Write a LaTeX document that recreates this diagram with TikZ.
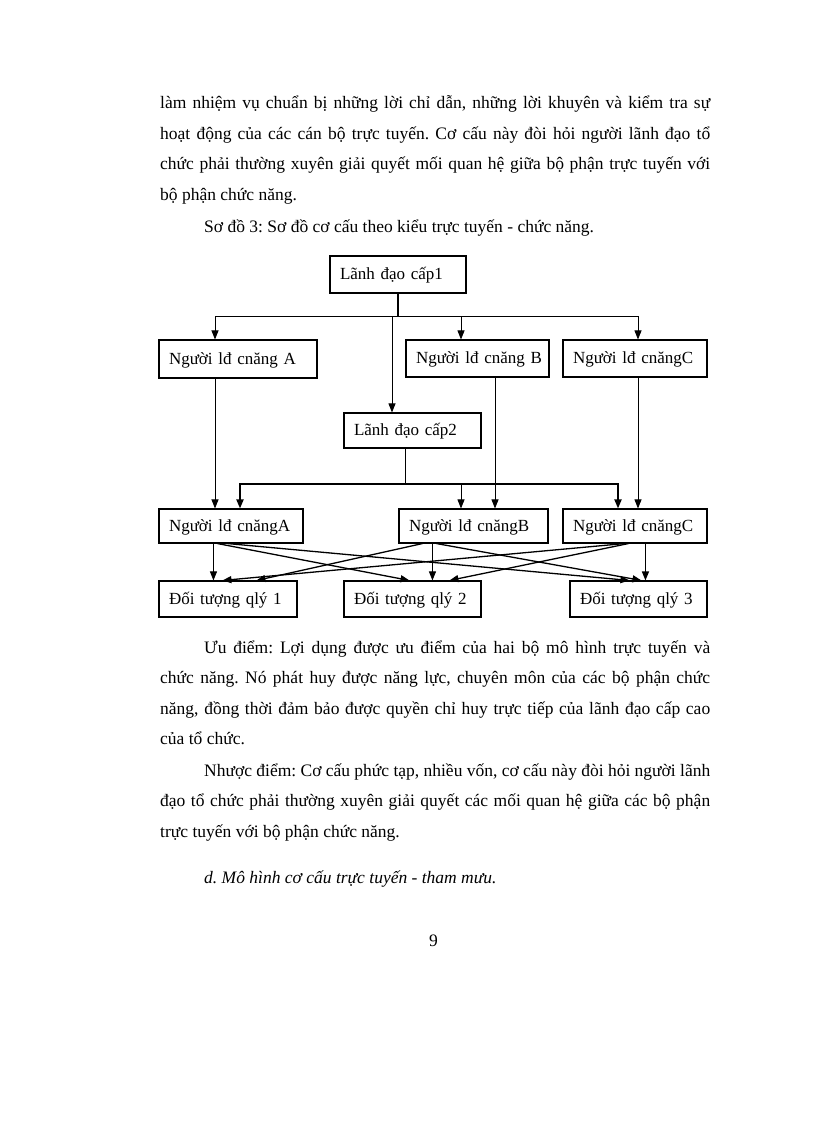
\documentclass[tikz,border=0pt]{standalone}
\usepackage{fontspec}
\setmainfont{Liberation Serif}
\usetikzlibrary{arrows.meta,calc}
\newcommand\fsz{\fontsize{17.5}{21}\selectfont}
\newcommand\bsz{\fontsize{17}{20}\selectfont}
\frenchspacing
\begin{document}
\frenchspacing
\begin{tikzpicture}[x=1pt,y=-1pt,
  box/.style={draw, line width=1.1pt, rectangle, inner xsep=10pt, inner ysep=0pt, align=left, font=\bsz, text height=13pt, text depth=3pt},
  arr/.style={-{Triangle[length=9pt,width=7pt]}, line width=0.9pt},
  xarr/.style={-{Triangle[length=9pt,width=7pt]}, line width=1.3pt},
  tarr/.style={-{Triangle[length=9pt,width=7pt]}, line width=1.8pt},
  ln/.style={line width=0.9pt},
  tln/.style={line width=1.8pt},
  txt/.style={anchor=base west, inner sep=0pt, font=\fsz}]
\path[use as bounding box, fill=white] (0,0) rectangle (816,1123);

% body text above
\node[txt] (p1) at (160,109) {\makebox[550pt][s]{làm nhiệm vụ chuẩn bị những lời chỉ dẫn, những lời khuyên và kiểm tra sự}};
\node[txt] (p2) at (160,139.5) {\makebox[550pt][s]{hoạt động của các cán bộ trực tuyến. Cơ cấu này đòi hỏi người lãnh đạo tổ}};
\node[txt] (p3) at (160,170) {\makebox[550pt][s]{chức phải thường xuyên giải quyết mối quan hệ giữa bộ phận trực tuyến với}};
\node[txt] (p4) at (160,201) {bộ phận chức năng.};
\node[txt] (cap) at (204,233) {Sơ đồ 3: Sơ đồ cơ cấu theo kiểu trực tuyến - chức năng.};

% boxes
\node[box, text width=116pt, minimum height=37pt] (L1) at (398,274.5) {\mbox{Lãnh đạo cấp1}};
\node[box, text width=138pt, minimum height=38pt] (A) at (238,359) {\mbox{Người lđ cnăng A}};
\node[box, text width=123pt, minimum height=37pt] (B) at (477.5,358.5) {\mbox{Người lđ cnăng B}};
\node[box, text width=124pt, minimum height=37pt] (C) at (635,358.5) {\mbox{Người lđ cnăngC}};
\node[box, text width=117pt, minimum height=35pt] (L2) at (412.5,430.5) {\mbox{Lãnh đạo cấp2}};
\node[box, text width=124pt, minimum height=34pt] (A2) at (231,526) {\mbox{Người lđ cnăngA}};
\node[box, text width=129pt, minimum height=34pt] (B2) at (473.5,526) {\mbox{Người lđ cnăngB}};
\node[box, text width=124pt, minimum height=34pt] (C2) at (635,526) {\mbox{Người lđ cnăngC}};
\node[box, text width=118pt, minimum height=36pt] (D1) at (228,599) {\mbox{Đối tượng qlý 1}};
\node[box, text width=117pt, minimum height=36pt] (D2) at (412.5,599) {\mbox{Đối tượng qlý 2}};
\node[box, text width=117pt, minimum height=36pt] (D3) at (638.5,599) {\mbox{Đối tượng qlý 3}};

% helper coordinates
\coordinate (j1) at (398,316);
\coordinate (xa) at (215,0);
\coordinate (xb) at (461,0);
\coordinate (xc) at (638,0);
\coordinate (xl) at (392,0);
\coordinate (xb2) at (495,0);
\coordinate (j2) at (405,484);
\coordinate (ya) at (240,0);
\coordinate (yc) at (618,0);

% level 1
\draw[tln] (L1.south -| j1) -- (j1);
\draw[arr] (j1) -| (A.north -| xa);
\draw[arr] (j1) -| (B.north -| xb);
\draw[arr] (j1) -| (C.north -| xc);
\draw[arr] (j1) -| (L2.north -| xl);

% functional to second row
\draw[arr] (A.south -| xa) -- (A2.north -| xa);
\draw[arr] (B.south -| xb2) -- (B2.north -| xb2);
\draw[arr] (C.south -| xc) -- (C2.north -| xc);

% level 2 bus
\draw[ln] (L2.south -| j2) -- (j2);
\draw[tarr] (j2) -| (A2.north -| ya);
\draw[arr] (j2) -| (B2.north -| xb);
\draw[tarr] (j2) -| (C2.north -| yc);

% bottom crossings
\draw[arr] ([xshift=55pt]A2.south west) -- ([xshift=55pt]D1.north west);
\draw[xarr] ([xshift=59pt]A2.south west) -- ([xshift=66pt]D2.north west);
\draw[xarr] ([xshift=69pt]A2.south west) -- ([xshift=60pt]D3.north west);
\draw[arr] ([xshift=34pt]B2.south west) -- ([xshift=89pt]D2.north west);
\draw[xarr] ([xshift=24pt]B2.south west) -- ([xshift=98pt]D1.north west);
\draw[xarr] ([xshift=38pt]B2.south west) -- ([xshift=72pt]D3.north west);
\draw[xarr] ([xshift=62pt]C2.south west) -- ([xshift=64pt]D1.north west);
\draw[xarr] ([xshift=66pt]C2.south west) -- ([xshift=106pt]D2.north west);
\draw[xarr] ([xshift=83pt]C2.south west) -- ([xshift=76pt]D3.north west);

% body text below
\node[txt] (q1) at (204,653) {\makebox[506pt][s]{Ưu điểm: Lợi dụng được ưu điểm của hai bộ mô hình trực tuyến và}};
\node[txt] (q2) at (160,683.5) {\makebox[550pt][s]{chức năng. Nó phát huy được năng lực, chuyên môn của các bộ phận chức}};
\node[txt] (q3) at (160,714) {\makebox[550pt][s]{năng, đồng thời đảm bảo được quyền chỉ huy trực tiếp của lãnh đạo cấp cao}};
\node[txt] (q4) at (160,744.5) {của tổ chức.};
\node[txt] (r1) at (204,776) {\makebox[506pt][s]{Nhược điểm: Cơ cấu phức tạp, nhiều vốn, cơ cấu này đòi hỏi người lãnh}};
\node[txt] (r2) at (160,806.5) {\makebox[550pt][s]{đạo tổ chức phải thường xuyên giải quyết các mối quan hệ giữa các bộ phận}};
\node[txt] (r3) at (160,837) {trực tuyến với bộ phận chức năng.};
\node[txt, font=\fsz\itshape] (h) at (204,883) {d. Mô hình cơ cấu trực tuyến - tham mưu.};
\node[txt] (pg) at (429,946) {9};
\end{tikzpicture}
\end{document}
